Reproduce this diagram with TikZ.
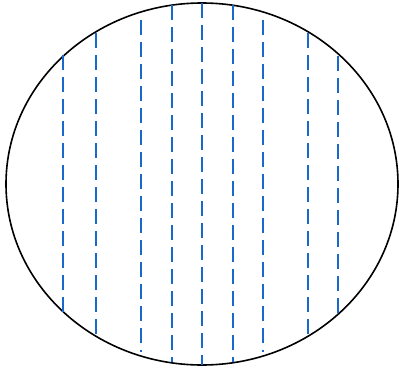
\documentclass[tikz,border=0pt]{standalone}
\usetikzlibrary{calc}
\definecolor{dashblue}{RGB}{25,105,205}
\tikzset{
  outline/.style={draw=black, line width=1.6pt},
  chord/.style={draw=dashblue, line width=1.9pt, dash pattern=on 15pt off 7pt}
}
\begin{document}
\begin{tikzpicture}[x=1pt,y=-1pt]
\useasboundingbox (0,0) rectangle (399,369);
\node[draw=none, inner sep=0pt, minimum size=0pt] (c) at (202,184) {};
\draw[outline] (c) ellipse [x radius=196, y radius=181];
\foreach \n/\x/\ya/\yb in {a/63/55/312, b/96/33/336, c1/141/20/352, d/172/5/362, e/202/3/365, f/233/5/362, g/263/20/352, h/308/33/335, i/338/56/314}{
  \coordinate (\n top) at (\x,\ya);
  \coordinate (\n bot) at (\x,\yb);
  \draw[chord] (\n top) -- (\n bot);
}
\end{tikzpicture}
\end{document}
